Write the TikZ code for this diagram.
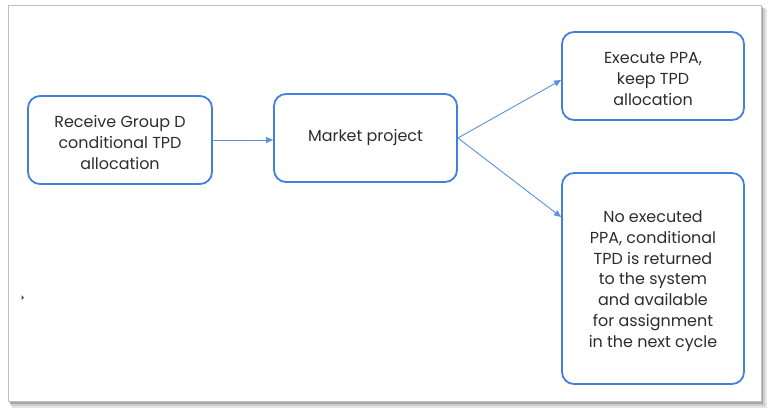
\documentclass[tikz,border=0pt]{standalone}
\usepackage{fontspec}
\setmainfont{Poppins}
\usetikzlibrary{arrows.meta}
\definecolor{boxblue}{RGB}{66,128,220}
\definecolor{arrblue}{RGB}{90,145,225}
\definecolor{txtgray}{RGB}{45,45,45}
\tikzset{
  flowbox/.style={draw=boxblue, line width=1.8bp, rounded corners=12bp, fill=white,
    text=txtgray, align=center, inner sep=0pt, font=\fontsize{16}{21}\selectfont},
  conn/.style={draw=arrblue, line width=0.9bp, -{Triangle[length=7bp,width=6bp]}}
}
\newcommand{\lowr}{\rule{0pt}{17bp}}
\begin{document}
\begin{tikzpicture}[x=1bp,y=-1bp]
\useasboundingbox (0,0) rectangle (773,417);
\fill[white] (0,0) rectangle (773,417);
% frame shadow
\fill[black!10] (12,9) rectangle (767,408);
\fill[black!20] (11,8) rectangle (765,406);
\fill[black!35] (10,7) rectangle (763,404);
\fill[white] (8,5) rectangle (761,401);
\draw[black!25, line width=0.8bp] (8,5) rectangle (761,401);
% boxes
\node[flowbox, minimum width=184bp, minimum height=88bp] (a) at (120,140) {\lowr Receive Group D\\conditional TPD\\allocation};
\node[flowbox, minimum width=183bp, minimum height=88bp] (b) at (365.5,138) {Market project};
\node[flowbox, minimum width=182bp, minimum height=88bp] (c) at (653,76) {\lowr Execute PPA,\\keep TPD\\allocation};
\node[flowbox, minimum width=182bp, minimum height=211bp] (d) at (653,278.5) {\lowr No executed\\PPA, conditional\\TPD is returned\\to the system\\and available\\for assignment\\in the next cycle};
% connectors
\draw[conn] (a.east) -- (a.east -| b.west);
\draw[conn] (b.east) -- ([yshift=-4bp]c.west);
\draw[conn] (b.east) -- ([yshift=61.5bp]d.west);
% small mark
\fill[black!70] (21.5,295) -- (24,297.5) -- (21.5,300) -- cycle;
\end{tikzpicture}
\end{document}
